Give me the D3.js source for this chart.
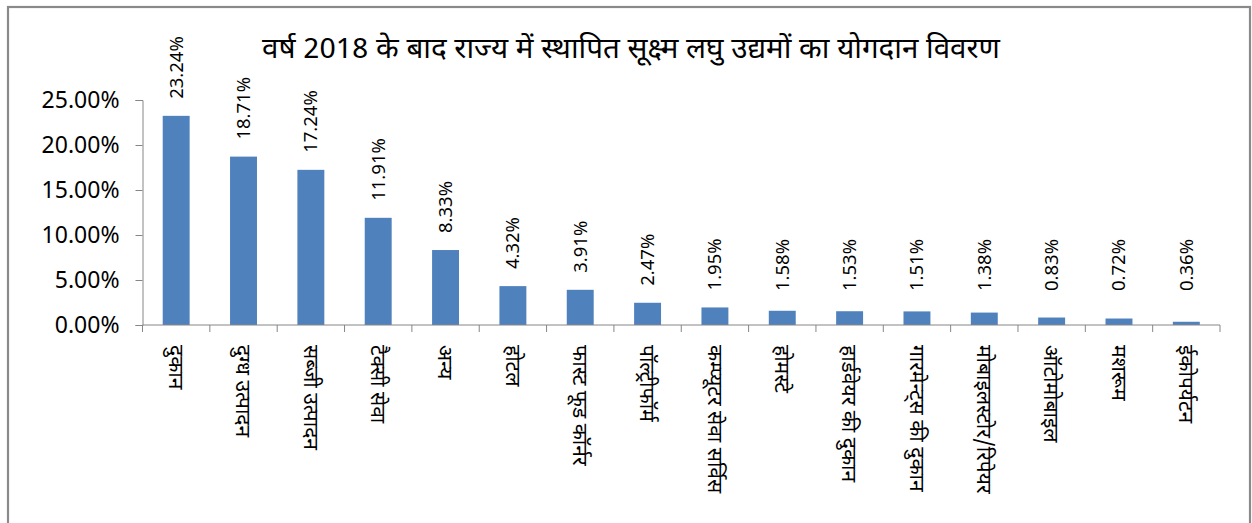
<!DOCTYPE html>
<html>
<head>
<meta charset="utf-8">
<script src="https://cdn.jsdelivr.net/npm/d3@7"></script>
<style>
  body { margin: 0; background: #fff; }
  .tick text { fill: #000; }
</style>
</head>
<body>
<div id="container"></div>
<script>
// data
var categories = ["दुकान", "दुग्ध उत्पादन", "सब्जी उत्पादन", "टैक्सी सेवा", "अन्य", "होटल",
    "फास्ट फूड कॉर्नर", "पॉल्ट्रीफॉर्म", "कम्प्यूटर सेवा सर्विस", "होमस्टे", "हार्डवेयर की दुकान",
    "गारमेन्ट्स की दुकान", "मोबाइलस्टोर/रिपेयर", "ऑटोमोबाइल", "मशरूम", "ईकोपर्यटन"];
var values = [23.24, 18.71, 17.24, 11.91, 8.33, 4.32, 3.91, 2.47, 1.95, 1.58, 1.53, 1.51, 1.38, 0.83, 0.72, 0.36];
var yTicks = [0, 5, 10, 15, 20, 25];
var title = "वर्ष 2018 के बाद राज्य में स्थापित सूक्ष्म लघु उद्यमों का योगदान विवरण";

var W = 1252, H = 523;
var margin = {top: 100, right: 32, bottom: 198, left: 142.5},
    width = 1220 - margin.left,
    height = 325 - margin.top;

var deva = "'Noto Sans Devanagari', 'Lohit Devanagari', Mangal, 'Noto Sans', sans-serif";
var latin = "'Noto Sans', 'Open Sans', sans-serif";

var root = d3.select("#container")
    .append("svg")
        .attr("width", W)
        .attr("height", H);

// outer frame (bottom edge falls outside the picture)
root.append("rect")
    .attr("x", 8)
    .attr("y", 7)
    .attr("width", 1242)
    .attr("height", 540)
    .style("fill", "none")
    .style("stroke", "#8a8a8a")
    .style("stroke-width", 2.2);

// title is drawn condensed in the original, so stretch it to the same span
root.append("text")
    .attr("x", 262)
    .attr("y", 58)
    .attr("textLength", 738)
    .attr("lengthAdjust", "spacingAndGlyphs")
    .style("font-family", deva)
    .style("font-size", "28px")
    .text(title);

var svg = root.append("g")
    .attr("transform", "translate(" + margin.left + "," + margin.top + ")");

var x = d3.scaleBand()
    .domain(categories)
    .range([0, width])
    .paddingInner(0.6)
    .paddingOuter(0.3);

var y = d3.scaleLinear()
    .domain([0, 25])
    .range([height, 0]);

// bars
svg.selectAll(".bar")
    .data(values)
  .enter().append("rect")
    .attr("class", "bar")
    .attr("x", function(d, i) { return x(categories[i]); })
    .attr("width", x.bandwidth())
    .attr("y", function(d) { return y(d); })
    .attr("height", function(d) { return height - y(d); })
    .style("fill", "#4f81bd");

// y axis
var yAxis = svg.append("g")
    .call(d3.axisLeft(y)
        .tickValues(yTicks)
        .tickSize(7)
        .tickPadding(16)
        .tickFormat(function(d) { return d.toFixed(2) + "%"; }));
yAxis.selectAll("text")
    .style("font-family", latin)
    .style("font-size", "23px");

// x axis line + ticks on band edges
var xAxis = svg.append("g")
    .attr("transform", "translate(0," + height + ")");
xAxis.append("line")
    .attr("x1", 0).attr("x2", width)
    .style("stroke", "#868686");
var step = x.step();
xAxis.selectAll(".xt")
    .data(d3.range(categories.length + 1))
  .enter().append("line")
    .attr("class", "xt")
    .attr("x1", function(i) { return i * step; })
    .attr("x2", function(i) { return i * step; })
    .attr("y1", 0)
    .attr("y2", 7)
    .style("stroke", "#868686");

yAxis.select(".domain").style("stroke", "#868686");
yAxis.selectAll(".tick line").style("stroke", "#868686");

// category labels, rotated to read top to bottom
xAxis.selectAll(".cat")
    .data(categories)
  .enter().append("text")
    .attr("class", "cat")
    .attr("transform", function(d) {
        return "translate(" + (x(d) + x.bandwidth() / 2) + ",20) rotate(90)";
    })
    .attr("dy", "0.35em")
    .style("font-family", deva)
    .style("font-size", "21px")
    .text(function(d) { return d; });

// value labels
svg.selectAll(".val")
    .data(values)
  .enter().append("text")
    .attr("class", "val")
    .attr("transform", function(d, i) {
        var bottom = Math.min(y(d) - 17, 291 - margin.top);
        return "translate(" + (x(categories[i]) + x.bandwidth() / 2) + "," + bottom + ") rotate(-90)";
    })
    .attr("dy", "0.35em")
    .style("font-family", latin)
    .style("font-size", "18.5px")
    .text(function(d) { return d.toFixed(2) + "%"; });
</script>
</body>
</html>
